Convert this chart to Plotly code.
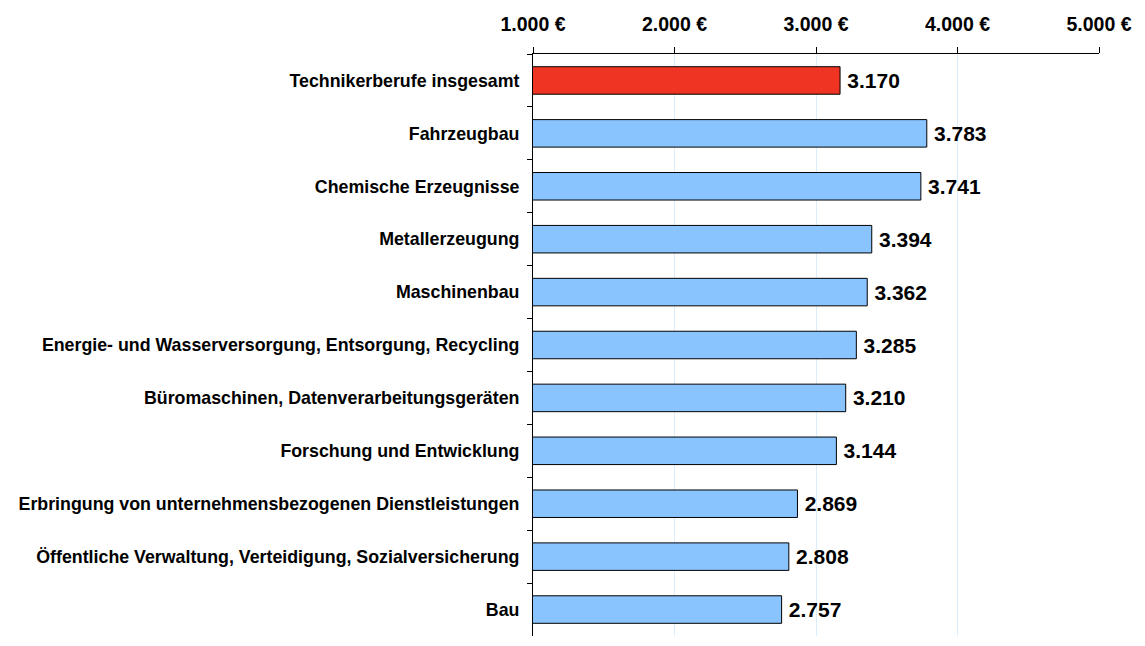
import plotly.graph_objects as go

categories = [
    "Technikerberufe insgesamt",
    "Fahrzeugbau",
    "Chemische Erzeugnisse",
    "Metallerzeugung",
    "Maschinenbau",
    "Energie- und Wasserversorgung, Entsorgung, Recycling",
    "Büromaschinen, Datenverarbeitungsgeräten",
    "Forschung und Entwicklung",
    "Erbringung von unternehmensbezogenen Dienstleistungen",
    "Öffentliche Verwaltung, Verteidigung, Sozialversicherung",
    "Bau",
]
values = [3170, 3783, 3741, 3394, 3362, 3285, 3210, 3144, 2869, 2808, 2757]
highlight = "Technikerberufe insgesamt"
tick_values = [1000, 2000, 3000, 4000, 5000]
tick_labels = ["1.000 €", "2.000 €", "3.000 €", "4.000 €", "5.000 €"]

colors = ["#EF3424" if c == highlight else "#8AC4FF" for c in categories]

font_family = "Arial, 'Liberation Sans', sans-serif"

fig = go.Figure(
    go.Bar(
        y=categories,
        x=values,
        orientation="h",
        marker=dict(color=colors, line=dict(color="black", width=1)),
        texttemplate="\u2009%{x:,.0f}",
        textposition="outside",
        textfont=dict(family=font_family, size=21, color="black", weight="bold"),
        cliponaxis=True,
        width=0.52,
    )
)

fig.update_layout(
    width=1145,
    height=646,
    margin=dict(l=525, r=54, t=46, b=18, autoexpand=False),
    plot_bgcolor="white",
    paper_bgcolor="white",
    separators=",.",
    showlegend=False,
    font=dict(family=font_family, color="black"),
)

fig.update_xaxes(
    side="top",
    range=[1000, 5000],
    tickvals=tick_values,
    ticktext=tick_labels,
    tickfont=dict(size=19.5, family=font_family, weight="bold", color="black"),
    showline=True,
    linecolor="black",
    linewidth=1,
    ticks="outside",
    ticklen=6,
    tickcolor="black",
    showgrid=True,
    gridcolor="#DCEEFB",
    gridwidth=1,
    zeroline=False,
    ticklabelstandoff=8,
    automargin=False,
)

fig.update_yaxes(
    autorange="reversed",
    showline=True,
    linecolor="black",
    linewidth=1,
    ticks="outside",
    ticklen=5,
    tickcolor="black",
    tickson="boundaries",
    showgrid=False,
    tickfont=dict(size=17.8, family=font_family, weight="bold", color="black"),
    ticklabelstandoff=9,
    automargin=False,
)

fig.write_html("out.html")
